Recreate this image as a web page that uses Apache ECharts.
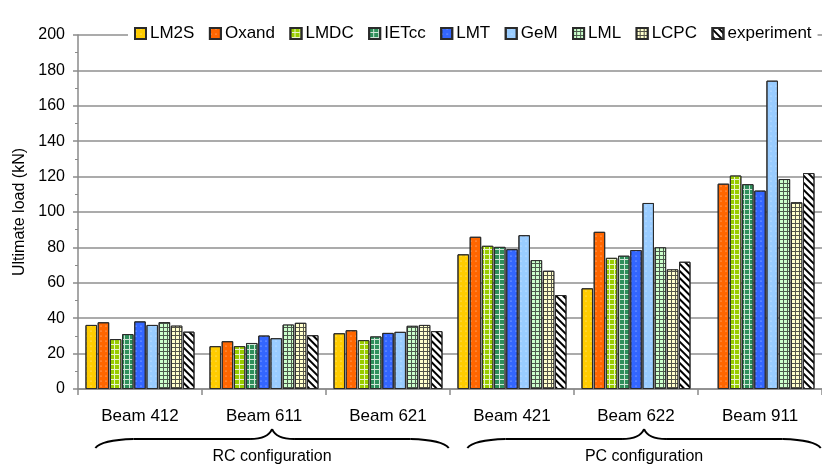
<!DOCTYPE html>
<html>
<head>
<meta charset="utf-8">
<script src="https://cdn.jsdelivr.net/npm/echarts@6/dist/echarts.min.js"></script>
<style>
  html, body { margin: 0; padding: 0; background: #fff; }
  #chart { width: 822px; height: 471px; }
</style>
</head>
<body>
<div id="chart"></div>
<script>
const beams = ["Beam 412", "Beam 611", "Beam 621", "Beam 421", "Beam 622", "Beam 911"];
const yTicks = [0, 20, 40, 60, 80, 100, 120, 140, 160, 180, 200];

const lm2s = [36.2, 24.2, 31.5, 76.1, 56.9, null];
const oxand = [37.7, 27.0, 33.2, 86.0, 88.8, 116.0];
const lmdc = [28.2, 24.2, 27.6, 80.9, 74.1, 120.6];
const ietcc = [31.0, 26.0, 29.7, 80.3, 75.3, 115.7];
const lmt = [38.2, 30.2, 31.7, 79.0, 78.5, 112.1];
const gem = [36.2, 28.7, 32.3, 86.9, 105.1, 174.2];
const lml = [37.8, 36.4, 35.7, 72.8, 80.0, 118.6];
const lcpc = [35.8, 37.4, 36.2, 66.8, 67.6, 105.5];
const experiment = [32.4, 30.4, 32.7, 53.1, 71.9, 122.0];

// configuration groups: first and last beam index covered by each brace
const configNames = ["RC configuration", "PC configuration"];
const configFrom = [0, 3];
const configTo = [2, 5];

const font = "'Liberation Sans', Arial, sans-serif";

const dots = (base) => ({
  color: base,
  decal: {
    symbol: "circle",
    symbolSize: 0.6,
    color: "rgba(255,255,255,0.7)",
    dashArrayX: [2, 3],
    dashArrayY: [2, 3]
  }
});

const grid = (line, cell, size) => ({
  color: line,
  decal: {
    symbol: "rect",
    symbolSize: 1,
    color: cell,
    dashArrayX: [size, 1],
    dashArrayY: [size, 1]
  }
});

const seriesDefs = [
  { name: "LM2S", data: lm2s, style: dots("#ffcc00") },
  { name: "Oxand", data: oxand, style: dots("#ff6600") },
  { name: "LMDC", data: lmdc, style: grid("#eaf5c8", "#99cc00", 4) },
  { name: "IETcc", data: ietcc, style: grid("#cde6d6", "#2f8f5b", 4) },
  { name: "LMT", data: lmt, style: dots("#3366ff") },
  { name: "GeM", data: gem, style: dots("#99ccff") },
  { name: "LML", data: lml, style: grid("#4d5a4d", "#ccffcc", 3) },
  { name: "LCPC", data: lcpc, style: grid("#55554a", "#ffffcc", 3) },
  {
    name: "experiment",
    data: experiment,
    style: {
      color: "#ffffff",
      decal: {
        symbol: "rect",
        symbolSize: 1,
        color: "#000000",
        dashArrayX: [1, 0],
        dashArrayY: [2, 2.5],
        rotation: Math.PI / 4
      }
    }
  }
];

const chart = echarts.init(document.getElementById("chart"));

chart.setOption({
  animation: false,
  backgroundColor: "#fff",
  textStyle: { fontFamily: font, color: "#000" },
  grid: { left: 78, top: 35, width: 752, height: 354 },
  legend: {
    data: seriesDefs.map((s) => s.name),
    left: 128,
    top: 24,
    padding: [1, 6],
    backgroundColor: "#fff",
    icon: "rect",
    itemWidth: 11,
    itemHeight: 11,
    itemGap: 14.5,
    textStyle: { fontSize: 17, fontFamily: font, color: "#000", padding: [0, 0, 0, -1] }
  },
  xAxis: {
    type: "category",
    data: beams,
    axisLine: { lineStyle: { color: "#8a8a8a", width: 1.5 } },
    axisTick: { show: true, length: 6, lineStyle: { color: "#8a8a8a", width: 1.5 } },
    axisLabel: { fontSize: 17, fontFamily: font, color: "#000", margin: 19 }
  },
  yAxis: {
    type: "value",
    min: yTicks[0],
    max: yTicks[yTicks.length - 1],
    interval: 20,
    name: "Ultimate load (kN)",
    nameLocation: "middle",
    nameGap: 48,
    nameTextStyle: { fontSize: 16, fontFamily: font, color: "#000" },
    axisLine: { show: true, lineStyle: { color: "#8a8a8a", width: 1.5 } },
    axisTick: { show: true, length: 5, lineStyle: { color: "#8a8a8a", width: 1.5 } },
    minorTick: { show: true, splitNumber: 2, length: 3, lineStyle: { color: "#8a8a8a", width: 1 } },
    axisLabel: { fontSize: 16, fontFamily: font, color: "#000", margin: 13 },
    splitLine: { show: true, lineStyle: { color: "#8f8f8f", width: 1.5 } }
  },
  series: seriesDefs.map((s) => ({
    name: s.name,
    type: "bar",
    data: s.data,
    barWidth: 11.5,
    barGap: "6%",
    itemStyle: Object.assign({ borderColor: "#2a2a2a", borderWidth: 1 }, s.style)
  }))
});

function drawBraces() {
  const c = (i) => chart.convertToPixel({ xAxisIndex: 0 }, i);
  const band = c(1) - c(0);
  const yEnd = 448, yBar = 439, yTip = 429;
  const stroke = { stroke: "#000", lineWidth: 2, fill: null };
  const elements = [];
  configNames.forEach((name, k) => {
    const L = c(configFrom[k]) - 0.36 * band;
    const R = c(configTo[k]) + 0.49 * band;
    const M = (L + R) / 2;
    elements.push(
      { type: "bezierCurve", shape: { x1: L, y1: yEnd, cpx1: L + 6, cpy1: yBar + 1, x2: L + 38, y2: yBar }, style: stroke },
      { type: "line", shape: { x1: L + 38, y1: yBar, x2: M - 22, y2: yBar }, style: stroke },
      { type: "bezierCurve", shape: { x1: M - 22, y1: yBar, cpx1: M - 4, cpy1: yBar, x2: M, y2: yTip }, style: stroke },
      { type: "bezierCurve", shape: { x1: M, y1: yTip, cpx1: M + 4, cpy1: yBar, x2: M + 22, y2: yBar }, style: stroke },
      { type: "line", shape: { x1: M + 22, y1: yBar, x2: R - 38, y2: yBar }, style: stroke },
      { type: "bezierCurve", shape: { x1: R - 38, y1: yBar, cpx1: R - 6, cpy1: yBar + 1, x2: R, y2: yEnd }, style: stroke },
      {
        type: "text",
        x: M,
        y: 457,
        style: {
          text: name,
          font: `16px ${font}`,
          fill: "#000",
          align: "center",
          verticalAlign: "middle"
        }
      }
    );
  });
  chart.setOption({ graphic: { elements } });
}

drawBraces();
</script>
</body>
</html>
